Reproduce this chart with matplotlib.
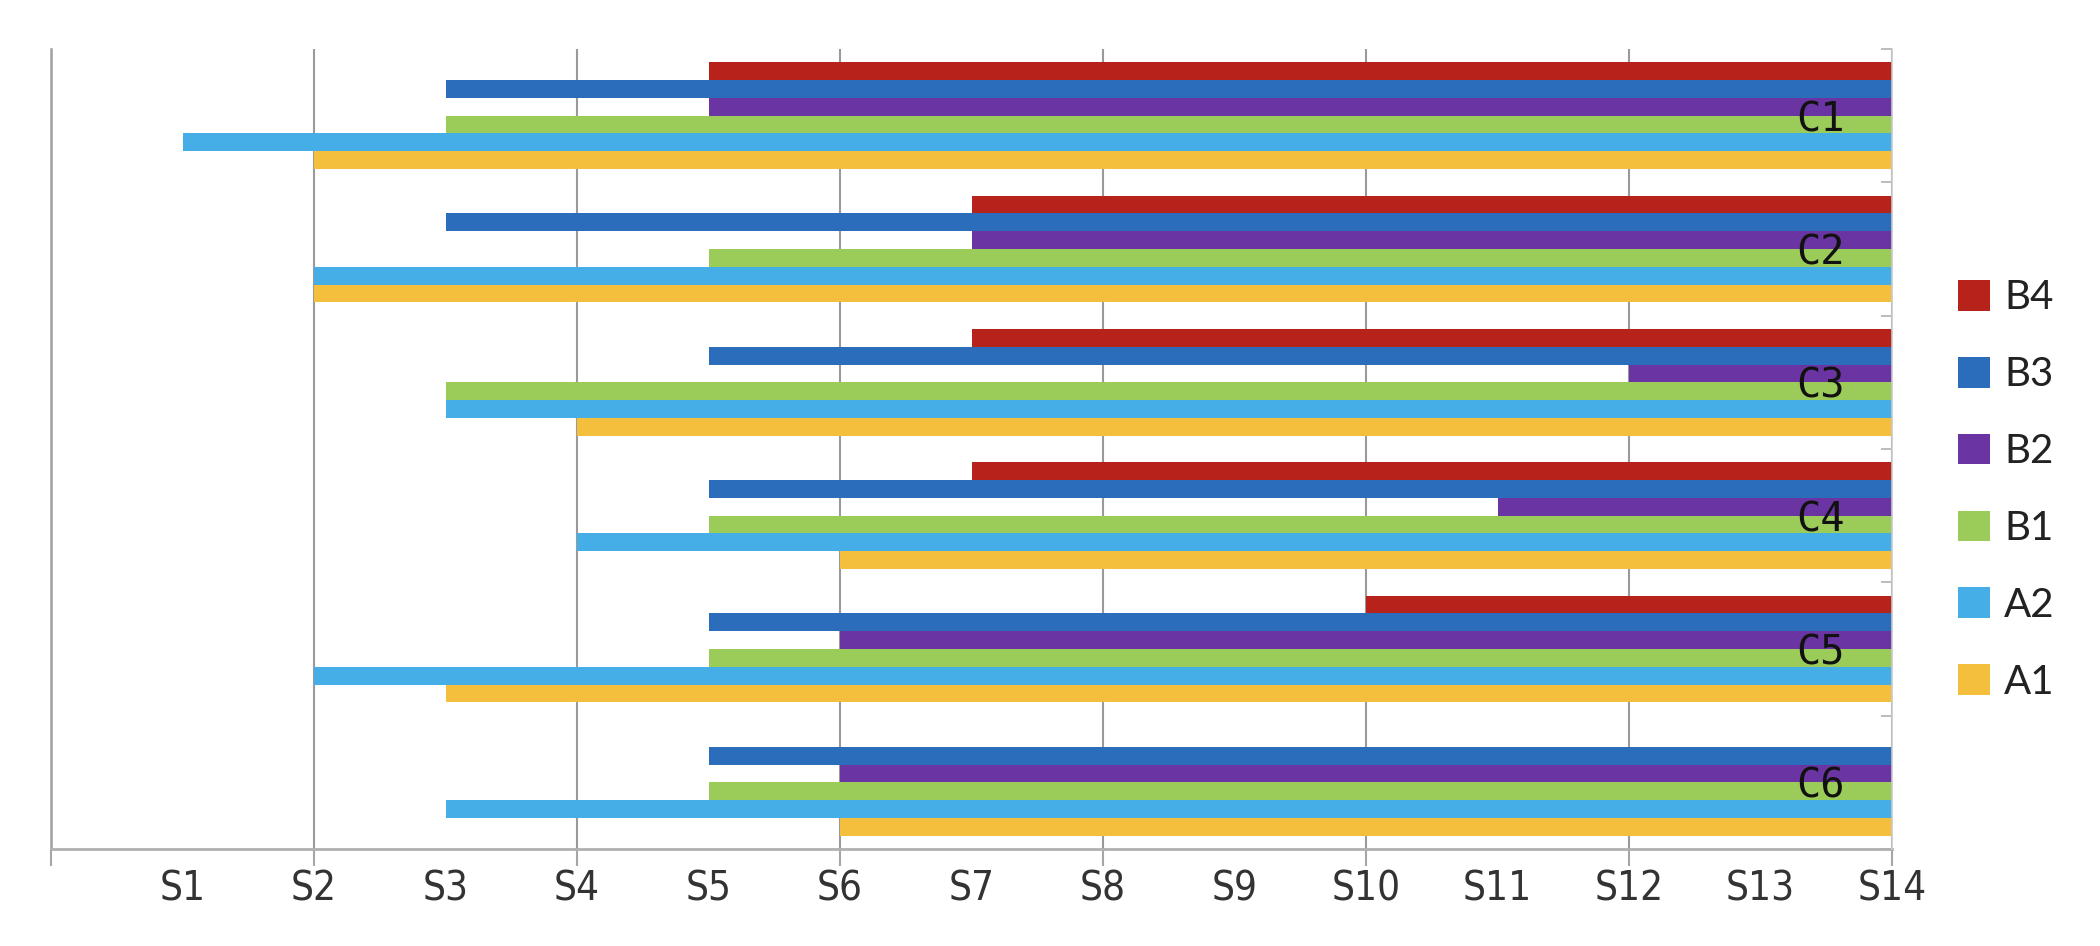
import numpy as np
import matplotlib
matplotlib.use("Agg")
import matplotlib.pyplot as plt
from matplotlib import font_manager as fm
from matplotlib.ticker import FixedLocator

# ---------------- data ----------------
categories = ["C1", "C2", "C3", "C4", "C5", "C6"]
series = ["B4", "B3", "B2", "B1", "A2", "A1"]          # top-to-bottom order within a group
colors = ["#B7231A", "#2B6DBB", "#6A35A3", "#9BCC5A", "#46AEE6", "#F3BF3C"]
x_end = 14
# start position of every bar (bar runs from start to S14); 14 = no bar
B4 = [5, 7, 7, 7, 10, 14]
B3 = [3, 3, 5, 5, 5, 5]
B2 = [5, 7, 12, 11, 6, 6]
B1 = [3, 5, 3, 5, 5, 5]
A2 = [1, 2, 3, 4, 2, 3]
A1 = [2, 2, 4, 6, 3, 6]
starts = [B4, B3, B2, B1, A2, A1]
x_labels = ["S%d" % i for i in range(1, 15)]

# ---------------- fonts ----------------
names = {f.name for f in fm.fontManager.ttflist}
if "Liberation Sans Narrow" in names:
    tick_font = dict(family=["Liberation Sans Narrow", "DejaVu Sans"])
else:
    tick_font = dict(family=["DejaVu Sans"], stretch="condensed")
legend_family = "Lato" if "Lato" in names else "DejaVu Sans"

# ---------------- figure ----------------
fig = plt.figure(figsize=(21, 9.46), dpi=100)
ax = fig.add_axes([51 / 2100, 97 / 946, (1892 - 51) / 2100, (849 - 49) / 946])

n = len(series)
group_w = 0.8
bar_h = group_w / n
y = np.arange(len(categories))
for j, (name, st, c) in enumerate(zip(series, starts, colors)):
    st = np.array(st, dtype=float)
    ypos = y - group_w / 2 + (j + 0.5) * bar_h
    ax.barh(ypos, x_end - st, left=st, height=bar_h, color=c, label=name,
            edgecolor="none", zorder=3)

ax.set_axisbelow(True)
ax.set_xlim(0, 14)
ax.set_ylim(len(categories) - 0.5, -0.5)

# x axis: labels at every integer, tick marks + gridlines at even values
ax.xaxis.remove_overlapping_locs = False
ax.xaxis.set_major_locator(FixedLocator(np.arange(1, 15)))
ax.set_xticklabels(x_labels)
ax.xaxis.set_minor_locator(FixedLocator(np.arange(0, 15, 2)))
ax.tick_params(axis="x", which="major", length=0, pad=15, labelsize=29,
               labelcolor="#333333")
ax.tick_params(axis="x", which="minor", length=12, width=1.5, color="#a6a6a6",
               direction="out")
for lab in ax.get_xticklabels():
    lab.set_fontproperties(fm.FontProperties(size=29, **tick_font))
ax.grid(which="minor", axis="x", color="#9a9a9a", linewidth=1.5)
ax.grid(which="major", axis="x", visible=False)
ax.set_yticks([])

for s in ["top", "right"]:
    ax.spines[s].set_visible(False)
ax.spines["left"].set_color("#a0a0a0")
ax.spines["left"].set_linewidth(1.8)
ax.spines["bottom"].set_color("#b0b0b0")
ax.spines["bottom"].set_linewidth(2)

# right axis (drawn on top of the bars): category labels inside, boundary ticks
ax2 = ax.twinx()
ax2.set_ylim(ax.get_ylim())
ax2.set_yticks(y)
ax2.set_yticklabels(categories, fontfamily="DejaVu Sans Mono", fontsize=29,
                    ha="right", color="#111111")
ax2.yaxis.set_minor_locator(FixedLocator(np.arange(-0.5, len(categories), 1)))
ax2.tick_params(axis="y", which="major", length=0, pad=-34)
ax2.tick_params(axis="y", which="minor", length=8, width=1.2, color="#b0b0b0",
                direction="in")
for s in ["top", "left", "bottom"]:
    ax2.spines[s].set_visible(False)
ax2.spines["right"].set_color("#c8c8c8")
ax2.spines["right"].set_linewidth(1.2)

# legend
handles, labels = ax.get_legend_handles_labels()
leg = fig.legend(handles, labels, loc="center left",
                 bbox_to_anchor=(1958 / 2100, 1 - 490 / 946),
                 frameon=False, prop=dict(family=legend_family, size=29),
                 handlelength=0.8, handleheight=0.8, handletextpad=0.35,
                 labelspacing=0.99, borderpad=0, borderaxespad=0)
for t in leg.get_texts():
    t.set_color("#222222")

fig.savefig("out.png", dpi=100)
